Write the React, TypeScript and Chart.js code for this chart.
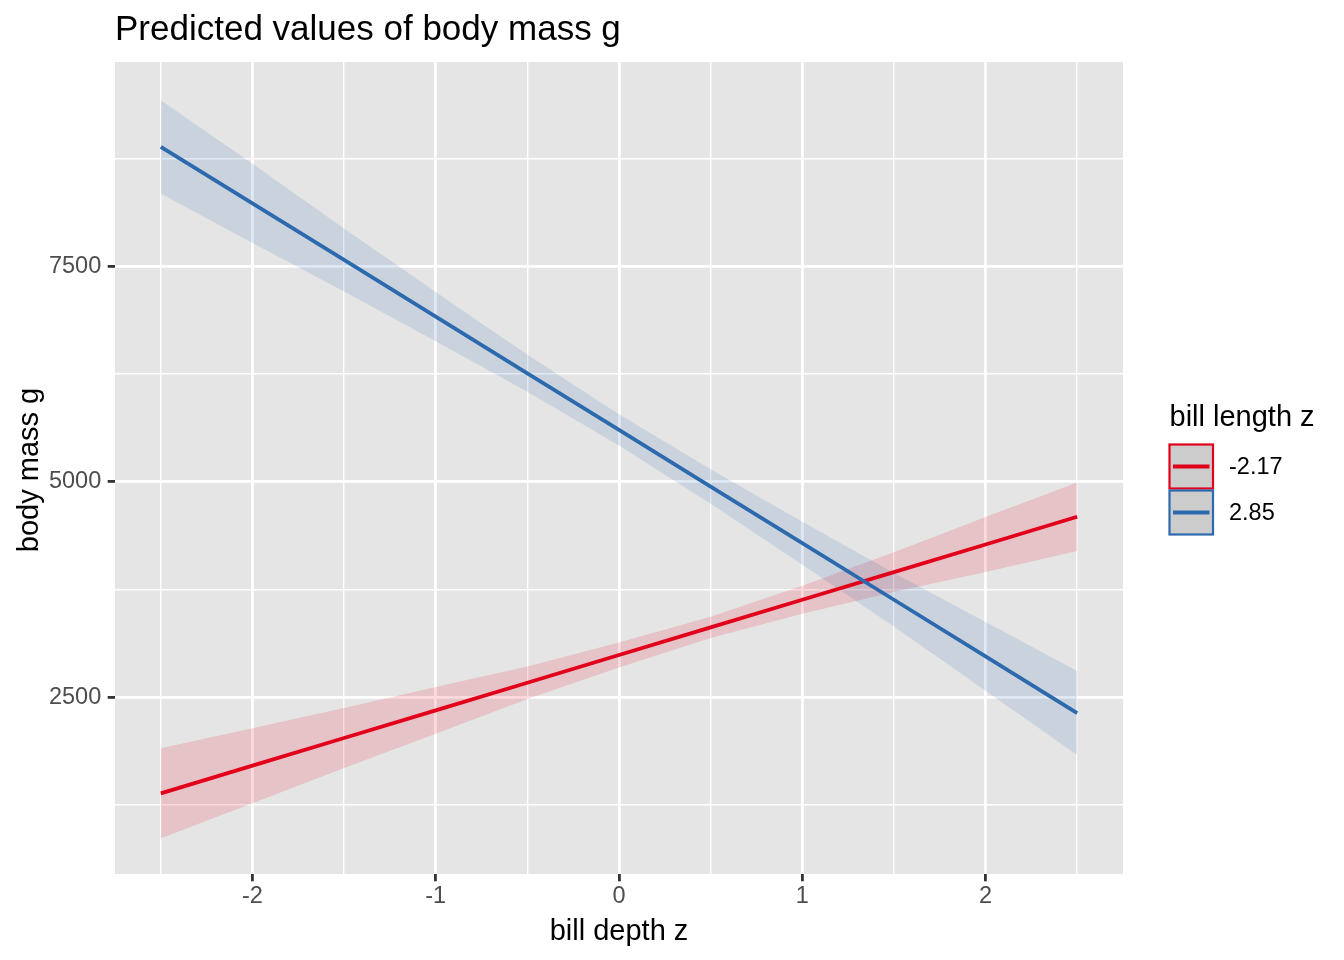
import React, { useEffect, useRef } from "react";
import { Chart, registerables } from "chart.js";

Chart.register(...registerables);

// ---- data ----
const xValues = [-2.5, -2, -1.5, -1, -0.5, 0, 0.5, 1, 1.5, 2, 2.5];
const redMean = [1382, 1703, 2024, 2345, 2666, 2988, 3309, 3630, 3951, 4272, 4594];
const redLower = [860, 1268, 1676, 2074, 2476, 2843, 3185, 3467, 3719, 3952, 4197];
const redUpper = [1904, 2138, 2372, 2616, 2856, 3133, 3433, 3793, 4183, 4592, 4991];
const blueMean = [8890, 8233, 7576, 6918, 6260, 5602, 4945, 4287, 3630, 2972, 2314];
const blueLower = [8348, 7773, 7211, 6631, 6045, 5420, 4745, 4037, 3320, 2572, 1826];
const blueUpper = [9432, 8693, 7941, 7205, 6475, 5784, 5145, 4537, 3940, 3372, 2802];
const seriesLabels = ["-2.17", "2.85"];
const xTickValues = [-2.5, -2, -1.5, -1, -0.5, 0, 0.5, 1, 1.5, 2, 2.5];
const xMajorTicks = [-2, -1, 0, 1, 2];
const yTickValues = [1250, 2500, 3750, 5000, 6250, 7500, 8750];
const yMajorTicks = [2500, 5000, 7500];

const TITLE = "Predicted values of body mass g";
const X_TITLE = "bill depth z";
const Y_TITLE = "body mass g";
const LEGEND_TITLE = "bill length z";

const RED = "#E2001A";
const BLUE = "#2C69AD";
const RED_FILL = "rgba(226,0,26,0.15)";
const BLUE_FILL = "rgba(44,105,173,0.15)";
const FONT = "'Liberation Sans', Arial, Helvetica, sans-serif";

const pts = (ys: number[]) => xValues.map((x, i) => ({ x, y: ys[i] }));

const decorPlugin = {
  id: "decor",
  beforeDraw(chart: any) {
    const { ctx, chartArea: a } = chart;
    ctx.save();
    ctx.fillStyle = "#FFFFFF";
    ctx.fillRect(0, 0, chart.width, chart.height);
    ctx.fillStyle = "#E5E5E5";
    ctx.fillRect(a.left, a.top, a.right - a.left, a.bottom - a.top);
    ctx.restore();
  },
  afterDraw(chart: any) {
    const { ctx, chartArea: a } = chart;
    ctx.save();
    ctx.fillStyle = "#000000";
    // title
    ctx.font = `35px ${FONT}`;
    ctx.textAlign = "left";
    ctx.textBaseline = "alphabetic";
    ctx.fillText(TITLE, a.left, 40);
    // x title
    ctx.font = `29px ${FONT}`;
    ctx.textAlign = "center";
    ctx.fillText(X_TITLE, (a.left + a.right) / 2, 940);
    // y title
    ctx.save();
    ctx.translate(37.5, (a.top + a.bottom) / 2 + 2);
    ctx.rotate(-Math.PI / 2);
    ctx.fillText(Y_TITLE, 0, 0);
    ctx.restore();
    // legend
    ctx.textAlign = "left";
    ctx.fillText(LEGEND_TITLE, 1169.5, 426);
    const colors = [RED, BLUE];
    const keyTops = [444.5, 490.5];
    const keyX = 1169.5;
    const keyW = 43.5;
    const keyH = 44;
    ctx.font = `23.5px ${FONT}`;
    ctx.textBaseline = "middle";
    seriesLabels.forEach((lab, i) => {
      const top = keyTops[i];
      ctx.fillStyle = "#CCCCCC";
      ctx.fillRect(keyX, top, keyW, keyH);
      ctx.strokeStyle = colors[i];
      ctx.lineWidth = 2.2;
      ctx.strokeRect(keyX, top, keyW, keyH);
      ctx.beginPath();
      ctx.lineWidth = 3.8;
      ctx.moveTo(keyX + 3.5, top + keyH / 2);
      ctx.lineTo(keyX + keyW - 3.5, top + keyH / 2);
      ctx.stroke();
      ctx.fillStyle = "#000000";
      ctx.fillText(lab, 1229, top + keyH / 2 + 1);
    });
    ctx.restore();
  },
};

export default function App() {
  const ref = useRef<HTMLCanvasElement | null>(null);

  useEffect(() => {
    if (!ref.current) return;
    const band = (ys: number[], fill: any, bg: string, order: number) => ({
      data: pts(ys),
      borderWidth: 0,
      borderColor: "rgba(0,0,0,0)",
      backgroundColor: bg,
      pointRadius: 0,
      fill,
      tension: 0,
      order,
    });
    const chart = new Chart(ref.current, {
      type: "line",
      data: {
        datasets: [
          band(redLower, false, "rgba(0,0,0,0)", 5),
          band(redUpper, "-1", RED_FILL, 4),
          band(blueLower, false, "rgba(0,0,0,0)", 3),
          band(blueUpper, "-1", BLUE_FILL, 2),
          {
            data: pts(redMean),
            borderColor: RED,
            borderWidth: 3.8,
            pointRadius: 0,
            fill: false,
            tension: 0,
            order: 1,
          },
          {
            data: pts(blueMean),
            borderColor: BLUE,
            borderWidth: 3.8,
            pointRadius: 0,
            fill: false,
            tension: 0,
            order: 0,
          },
        ],
      },
      options: {
        animation: false,
        responsive: false,
        devicePixelRatio: 1,
        layout: { padding: { left: 0, top: 62, right: 221, bottom: 0 } },
        plugins: {
          legend: { display: false },
          title: { display: false },
          tooltip: { enabled: false },
          filler: { drawTime: "beforeDatasetsDraw" },
        } as any,
        scales: {
          x: {
            type: "linear",
            min: -2.75,
            max: 2.75,
            afterBuildTicks: (scale: any) => {
              scale.ticks = xTickValues.map((v) => ({ value: v }));
            },
            afterFit: (scale: any) => {
              scale.height = 86;
            },
            ticks: {
              autoSkip: false,
              maxRotation: 0,
              padding: 1.5,
              color: "#4D4D4D",
              font: { family: FONT, size: 23.5 },
              callback: (v: any) => (xMajorTicks.includes(Number(v)) ? String(v) : ""),
            },
            grid: {
              color: "#FFFFFF",
              lineWidth: (c: any) => (c.tick && xMajorTicks.includes(c.tick.value) ? 2.8 : 1.4),
              tickColor: (c: any) =>
                c.tick && xMajorTicks.includes(c.tick.value) ? "#333333" : "rgba(0,0,0,0)",
              tickWidth: 2.8,
              tickLength: 7.3,
              drawTicks: true,
            },
            border: { display: false },
          },
          y: {
            type: "linear",
            min: 445,
            max: 9875,
            afterBuildTicks: (scale: any) => {
              scale.ticks = yTickValues.map((v) => ({ value: v }));
            },
            afterFit: (scale: any) => {
              scale.width = 115;
            },
            ticks: {
              autoSkip: false,
              padding: 6.5,
              color: "#4D4D4D",
              font: { family: FONT, size: 23.5 },
              callback: (v: any) => (yMajorTicks.includes(Number(v)) ? String(v) : ""),
            },
            grid: {
              color: "#FFFFFF",
              lineWidth: (c: any) => (c.tick && yMajorTicks.includes(c.tick.value) ? 2.8 : 1.4),
              tickColor: (c: any) =>
                c.tick && yMajorTicks.includes(c.tick.value) ? "#333333" : "rgba(0,0,0,0)",
              tickWidth: 2.8,
              tickLength: 7.3,
              drawTicks: true,
            },
            border: { display: false },
          },
        },
      } as any,
      plugins: [decorPlugin],
    });
    return () => chart.destroy();
  }, []);

  return (
    <div style={{ position: "absolute", left: 0, top: 0, width: 1344, height: 960, background: "#fff" }}>
      <canvas ref={ref} width={1344} height={960} style={{ width: 1344, height: 960 }} />
    </div>
  );
}
